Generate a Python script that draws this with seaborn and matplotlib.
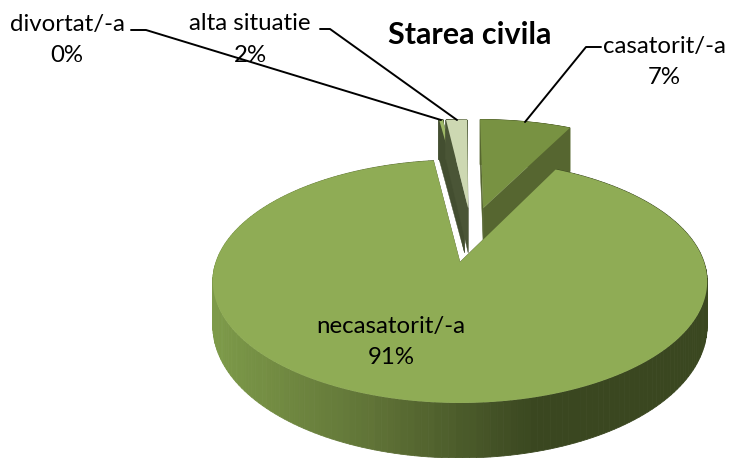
#!/usr/bin/env python3

import numpy as np
import matplotlib
matplotlib.use("Agg")
import matplotlib.pyplot as plt
import seaborn as sns

categories = ["casatorit/-a", "necasatorit/-a", "divortat/-a", "alta situatie"]
values = [7.4, 90.6, 0.3, 1.7]

# projection of the tilted pie, pixels of the picture
CX, CY = 460, 262
RX, RY, PERSP = 244, 118.4, 0.16

# slice centres on the pie plane (exploded)
centers = [(0.102, 0.49), (0.0, 0.0), (0.02, 0.49), (0.036, 0.49)]
top_colors = ["#789242", "#8fac55", "#9db766", "#cdd8b2"]
cut_colors = ["#566630", "#566630", "#434e30", "#4a5536"]
rim_colors = ["#56662f", None, "#434e30", "#4a5536"]
depth_base = [27, 42, 47, 47]
depth_slope = [12, -13, -5, -5]
label_pos = [(664, 46), (391, 327), (67, 24), (250, 24)]

sns.set_theme(style="white")
plt.rcParams["font.family"] = ["Lato", "DejaVu Sans"]

rim_pal = sns.blend_palette(["#7d9a49", "#5f7236", "#3a4720"], 64)


def project(u, v):
    s = 1 / (1 + PERSP * v)
    return CX + RX * u * s, CY - RY * v * s


def draw_slice(ax, theta1, theta2, center, top, cut, rim, base, slope):
    angles = np.radians(np.linspace(theta1, theta2, 240))
    u = center[0] + np.cos(angles)
    v = center[1] + np.sin(angles)
    x, y = project(u, v)
    x0, y0 = project(*center)
    d = base + slope * v
    d0 = base + slope * center[1]

    # outer wall, split in strips for the shading
    for i in range(len(x) - 1):
        if rim is None:
            t = np.clip((x[i] - 213) / (530 - 213), 0, 1)
            col = rim_pal[int(t * 63)]
        else:
            col = rim
        ax.fill(
            [x[i], x[i + 1], x[i + 1], x[i]],
            [y[i], y[i + 1], y[i + 1] + d[i + 1], y[i] + d[i]],
            color=col,
            lw=0.6,
        )

    # cut faces
    for k in [0, -1]:
        ax.fill(
            [x0, x[k], x[k], x0],
            [y0, y[k], y[k] + d[k], y0 + d0],
            color=cut,
            lw=0.3,
        )

    ax.fill(np.r_[x0, x], np.r_[y0, y], color=top, lw=0)


fig = plt.figure(figsize=(7.29, 4.58), dpi=100)
ax = fig.add_axes([0, 0, 1, 1])

# angles come from the pie itself, the tilted shapes are built on them
wedges, _ = ax.pie(values, startangle=90, counterclock=False)
angles = [(w.theta1, w.theta2) for w in wedges]
for w in wedges:
    w.remove()

ax.set_aspect("auto")
ax.set_xlim(0, 729)
ax.set_ylim(458, 0)
ax.axis("off")

for i in [2, 3, 0, 1]:
    draw_slice(
        ax, angles[i][0], angles[i][1], centers[i], top_colors[i], cut_colors[i],
        rim_colors[i], depth_base[i], depth_slope[i],
    )

# leader lines
ax.plot([131, 146, 441], [30, 30, 120], color="black", lw=1.4)
ax.plot([320, 330, 457], [29, 29, 120], color="black", lw=1.4)
ax.plot([601, 586, 525], [47, 47, 122], color="black", lw=1.4)

for cat, val, (lx, ly) in zip(categories, values, label_pos):
    ax.text(lx, ly, cat, ha="center", va="center", fontsize=17.3, color="black")
    ax.text(lx, ly + 31, f"{val:.0f}%", ha="center", va="center", fontsize=17.3, color="black")

ax.text(470, 35, "Starea civila", ha="center", va="center", fontsize=22, fontweight="bold", color="black")

fig.savefig("out.png", dpi=100)
plt.close()
